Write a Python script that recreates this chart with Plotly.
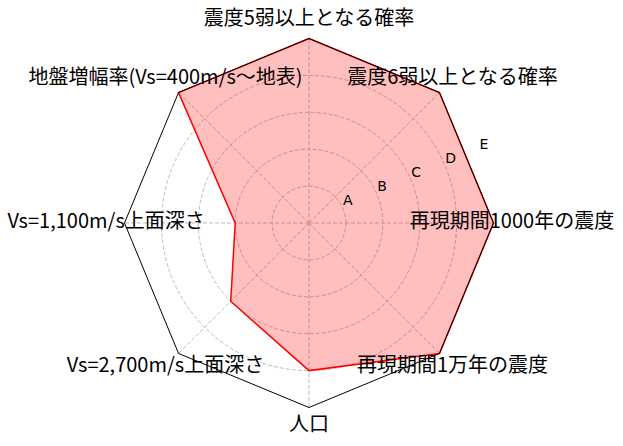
import plotly.graph_objects as go

# axes, clockwise from the top
categories = [
    "震度5弱以上となる確率",
    "震度6弱以上となる確率",
    "再現期間1000年の震度",
    "再現期間1万年の震度",
    "人口",
    "Vs=2,700m/s上面深さ",
    "Vs=1,100m/s上面深さ",
    "地盤増幅率(Vs=400m/s〜地表)",
]
scores = [5, 5, 5, 5, 4, 3, 2, 5]
rank_values = [1, 2, 3, 4, 5]
rank_labels = ["A", "B", "C", "D", "E"]

n = len(categories)
angles = [i * 360 / n for i in range(n)]
r_max = rank_values[-1]
r_outer = 5.6  # room for the category labels
label_r = 5.5

grid = "#bdbdbd"
dash = "4px,2px"

fig = go.Figure()

# dashed spokes from the centre to the frame
spoke_r, spoke_t = [], []
for a in angles:
    spoke_r += [0, r_max, None]
    spoke_t += [a, a, None]
fig.add_trace(
    go.Scatterpolar(
        r=spoke_r,
        theta=spoke_t,
        mode="lines",
        line=dict(color=grid, width=1, dash=dash),
        showlegend=False,
        hoverinfo="skip",
    )
)

# filled score polygon
fig.add_trace(
    go.Scatterpolar(
        r=scores + scores[:1],
        theta=angles + angles[:1],
        mode="lines",
        line=dict(color="red", width=1.5),
        fill="toself",
        fillcolor="rgba(255,0,0,0.25)",
        showlegend=False,
        hoverinfo="skip",
    )
)

# octagon frame
fig.add_trace(
    go.Scatterpolar(
        r=[r_max] * (n + 1),
        theta=angles + angles[:1],
        mode="lines",
        line=dict(color="black", width=1),
        showlegend=False,
        hoverinfo="skip",
    )
)

# rank labels A..E
fig.add_trace(
    go.Scatterpolar(
        r=rank_values,
        theta=[67.5] * len(rank_values),
        mode="text",
        text=rank_labels,
        textposition="top right",
        textfont=dict(family="DejaVu Sans", size=14, color="black"),
        cliponaxis=False,
        showlegend=False,
        hoverinfo="skip",
    )
)

# category labels
fig.add_trace(
    go.Scatterpolar(
        r=[label_r] * n,
        theta=angles,
        mode="text",
        text=categories,
        textposition="middle center",
        textfont=dict(family="Noto Sans CJK JP", size=20, color="black"),
        cliponaxis=False,
        showlegend=False,
        hoverinfo="skip",
    )
)

# centre (309, 223) px, 36.9 px per unit
cx, cy, rad = 309, 223, 36.9 * r_outer
fig.update_layout(
    width=623,
    height=446,
    margin=dict(l=0, r=0, t=0, b=0),
    paper_bgcolor="white",
    plot_bgcolor="white",
    polar=dict(
        domain=dict(
            x=[(cx - rad) / 623, (cx + rad) / 623],
            y=[(446 - cy - rad) / 446, (446 - cy + rad) / 446],
        ),
        bgcolor="white",
        gridshape="circular",
        radialaxis=dict(
            range=[0, r_outer],
            tickvals=rank_values[:-1],
            showticklabels=False,
            ticks="",
            showline=False,
            gridcolor=grid,
            griddash=dash,
            gridwidth=1,
        ),
        angularaxis=dict(
            direction="clockwise",
            rotation=90,
            tickvals=angles,
            showticklabels=False,
            showgrid=False,
            ticks="",
            showline=False,
        ),
    ),
)

fig.write_html(
    "out.html",
    config={"displayModeBar": False},
    post_script="document.body.style.margin = '0';",
)
